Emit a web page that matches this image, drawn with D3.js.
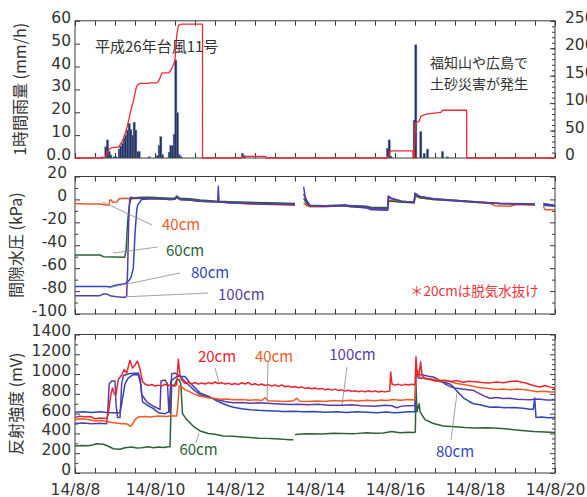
<!DOCTYPE html>
<html>
<head>
<meta charset="utf-8">
<script src="https://cdn.jsdelivr.net/npm/d3@7"></script>
<style>
  html, body { margin: 0; padding: 0; background: #fff; }
  svg { display: block; }
</style>
</head>
<body>
<svg id="chart" width="587" height="497"></svg>
<script>
// ---- time base: hours counted from 2014-08-08 00:00 ----
const START = new Date(2014, 7, 8, 0, 0);
const END = new Date(2014, 7, 20, 0, 0);
const at = h => new Date(START.getTime() + h * 3600e3);

// ---- hourly rainfall [hour, mm/h] ----
const rainHourly = [
  [16,0.5],[18,4.9],[19,7.9],[20,2.8],[21,1.3],[23,0.5],[24,0.5],
  [26,3.9],[27,5.2],[28,6.4],[29,8.6],[30,10.0],[31,12.2],[32,15.1],[33,12.5],[34,10.0],
  [35,15.6],[36,12.2],[37,2.8],[38,2.8],
  [44,0.5],[49,1.0],[50,5.5],[51,9.3],[52,1.5],
  [56,2.5],[57,5.5],[58,5.5],[59,10.4],[60,42.8],[61,19.8],[62,1.5],[63,0.6],
  [100,2.0],[101,1.0],[154,0.3],[169,0.3],
  [187,4.2],[188,7.9],[189,0.8],
  [203,16.5],[204,49.5],[207,11.5],[209,2.0],[211,3.9],[220,2.8],[223,0.5],[262,0.3]
];

// ---- cumulative rainfall per rain event [hour, mm] ----
const rainCumulative = [
  [0,0],[16,0],[17,0.5],[18,1],[19,6],[20,14],[21,17],[22,19],[24,19.5],[26,20],
  [27,24],[28,29],[29,35],[30,44],[31,54],[32,66],[33,80],[34,93],[35,103],[36,118],
  [37,131],[38,134],[39,136],[44,136],[45,137],[49,137],[50,139],[51,146],[52,154],
  [53,155],[56,155],[57,158],[58,163],[59,169],[60,179],[61,222],[62,241],[63,243],
  [64,244],[76.5,244],[76.5,0],[100,0],[101,2],[102,3],[114.5,3],[114.5,0],
  [187.5,0],[188.2,4],[189,12],[190,13],[202.8,13],[202.8,0],[203.5,0],[204.3,64],
  [206.5,67],[207.5,76],[209,78],[211,80],[213,81],[219.5,83],[220.5,87],[235,87],
  [235,0],[288,0]
];

// ---- pore water pressure [hour, kPa]; null = no record ----
const pore40 = [
  [0,-3.5],[7,-4],[15,-4],[19,-4.8],[20.5,-4.8],[20.8,-0.5],[22,-0.8],[22.5,-2.5],
  [25,-2.2],[26.5,0.5],[30,1],[34,0.5],[40,1],[45,0.8],[51,0.5],[57,0],[60,0.5],
  [61,2],[63,0],[69,-0.5],[75,-1.5],[85,-2.2],[93,-3],[105,-4],[117,-4.5],[132,-5],
  [134,null],[137.2,-3],[139,-5.5],[141,-6.5],[150,-6.5],[160,-5.5],[162,-4.5],
  [165,-6.5],[175,-7],[178,-8.5],[187.6,-8.5],[188,-0.5],[190,-1],[196,-2],
  [203.5,-3],[204,3],[207,1.5],[215,0],[225,-1],[240,-2.5],[249,-3.5],[252,-5.5],
  [261,-6],[265,-4.5],[276,-5],[278,null],[281,-6],[282,-9],[288,-9]
];
const pore60 = [
  [0,-48.5],[15,-48.5],[17,-50],[29.8,-50.5],[30.6,-45],[31.6,-19],[32.6,-5],
  [33.6,0.5],[36,1.5],[40,1.8],[45,2],[51,1.5],[57,1],[60,1],[61,3],[63,1],[69,0.5],
  [75,-0.5],[85,-1.5],[93,-2],[105,-2.5],[117,-3],[132,-3.5],
  [134,null],[137.2,1],[139,-4],[141,-5.5],[150,-5.5],[160,-5],[175,-6],[178,-7],
  [187.6,-7],[188,-2],[190,-1.5],[196,-2.5],[203.5,-3],[204,3.5],[207,1.5],[215,0],
  [225,-1],[240,-2.5],[255,-3.5],[276,-4],[278,null],[281,-4],[288,-5.5]
];
const pore80 = [
  [0,-76],[19,-76],[21,-76.5],[24,-75],[30,-73.5],[32,-71.5],[33.6,-68],[35,-60],
  [36,-30],[37,-10],[37.6,-5],[40,0],[45,0.5],[51,0.5],[57,0],[60,0.2],[61,2],[63,0],
  [69,-0.5],[75,-1.5],[85,-2],[93,-3],[105,-3.5],[117,-4],[132,-4.5],
  [134,null],[137.2,5],[139,-2],[141,-5.5],[150,-6],[160,-5.5],[175,-7.5],[178,-9],
  [187.6,-9.5],[188,2],[190,0.5],[196,-1.5],[203.5,-2.5],[204,5],[207,2.5],[215,0.5],
  [225,-0.5],[240,-2],[255,-3.5],[276,-4.5],[278,null],[281,-5],[288,-6]
];
const pore100 = [
  [0,-84],[15,-84],[17,-82.5],[19,-82.5],[21,-84],[25,-85],[30,-85.5],[31,-84],
  [31.6,-60],[32.2,-20],[32.8,0],[33.5,2],[36,1],[40,1],[45,0.5],[51,0.5],[57,0],
  [60,0.2],[61,2],[63,0],[69,-0.5],[75,-1.5],[85.6,-2],[86,11.5],[86.4,-2],[93,-3],
  [105,-3.5],[117,-4],[132,-4.5],
  [134,null],[137.2,11],[138,3],[139,-1],[141,-5],[150,-5.5],[160,-5],[175,-6.5],
  [178,-8],[187.6,-8],[188,3],[190,1],[196,-1.5],[203.5,-2.5],[204,5.5],[207,2.5],
  [215,0.5],[225,-0.5],[240,-2],[255,-3.5],[276,-4.5],[278,null],[281,-3.5],[288,-5]
];

// ---- reflection intensity [hour, mV]; null = no record ----
const refl20 = [
  [0,562],[3,575],[6,565],[8,572],[10,566],[12,548],[15,555],[19,550],[20,600],
  [21.5,790],[22.5,860],[23.5,800],[24.5,790],[26,945],[28,990],[29.5,1046],[31,1010],
  [33,1140],[34.5,1060],[36,1090],[37.5,1130],[39,1050],[40.5,925],[42,900],[44,885],
  [46,895],[48,880],[50,888],[52,878],[54,897],[56,884],[58,892],[60,880],[61,890],
  [62,1150],[63,990],[64,940],[66,905],[68,918],[70,900],[72,915],[74,898],[76,910],
  [78,900],[80,914],[82,902],[84,920],[86,905],[88,912],[90,900],[92,908],[94,895],
  [96,905],[98,893],[100,912],[102,900],[104,915],[106,892],[108,902],[110,888],
  [112,900],[114,885],[116,893],[118,878],[120,890],[122,876],[124,890],[126,872],
  [128,880],[130,866],[132,875],[134,862],[136,870],[138,855],[140,862],[142,852],
  [144,860],[146,848],[148,855],[150,842],[152,850],[154,838],[156,848],[158,835],
  [160,840],[162,828],[164,836],[166,825],[168,832],[170,822],[172,830],[174,820],
  [176,832],[178,822],[180,830],[182,818],[184,826],[186,820],[188.8,828],
  [189.4,1020],[190.2,900],[192,888],[194,898],[196,886],[198,896],[200,890],[202,898],
  [204,892],[204.6,1175],[205.3,980],[206.5,1000],[207.4,1125],[208.2,990],[210,955],
  [213,945],[216,930],[219,928],[222,938],[226,926],[229,935],[233,918],[236,928],
  [240,922],[244,915],[249,911],[253,920],[257,912],[261,925],[265,930],[268,918],
  [270,912],[273,894],[276,880],[279,870],[282,884],[285,868],[288,858]
];
const refl40 = [
  [0,540],[4,548],[8,540],[12,525],[16,530],[19,520],[22,510],[25,505],[28,498],
  [30,500],[32,490],[33,472],[34,478],[36,540],[38,567],[42,572],[45,566],[50,575],
  [55,570],[58,578],[61,575],[61.8,700],[62.5,880],[64,870],[66,843],[69,820],
  [72,795],[75,776],[78,768],[80,760],[84,752],[87,745],[91,748],[95,740],[100,742],
  [105,736],[109,740],[112,733],[114,760],[116,730],[120,728],[125,722],[128,726],
  [131,730],[133,755],[135,725],[140,722],[145,728],[150,722],[155,732],[160,727],
  [165,736],[170,728],[175,735],[180,730],[184,738],[187,733],[191,742],[195,736],
  [200,742],[204,738],[204.6,1000],[205.5,1040],[207,965],[210,958],[213,950],
  [217,942],[221,935],[225,925],[229,905],[233,895],[237,882],[241,870],[245,860],
  [249,852],[253,845],[257,850],[261,842],[265,848],[269,843],[273,835],[277,822],
  [281,826],[285,818],[288,820]
];
const refl60 = [
  [0,272],[4,278],[8,275],[11,285],[13,295],[17,290],[20,270],[23,245],[27,240],
  [30,255],[34,262],[37,252],[40,255],[44,265],[47,255],[50,262],[53,258],[56,265],
  [57,265],[58,890],[59.5,880],[61,940],[62.5,945],[63.5,900],[64.5,600],[67,540],
  [71,472],[75,425],[80,400],[84,392],[89,375],[95,372],[100,365],[105,358],[110,352],
  [115,350],[120,346],[125,340],[129,337],[131,335],[131.5,null],[132,390],[136,395],
  [140,398],[148,394],[155,402],[160,400],[168,398],[175,406],[180,402],[185,405],
  [190,420],[195,408],[200,412],[203,410],[204.2,415],[204.6,880],[205.2,620],
  [206.5,700],[207,620],[210,540],[215,500],[221,475],[228,468],[234,460],[240,455],
  [248,458],[256,450],[262,440],[268,430],[275,420],[282,415],[288,410]
];
const refl80 = [
  [0,615],[5,620],[10,612],[15,618],[19,612],[23,608],[27,610],[28,700],[30,900],
  [32,962],[35,995],[38,990],[39.5,900],[40.5,720],[43,690],[47,650],[50,610],
  [54,600],[56.5,620],[57.5,930],[61,975],[66,975],[69,910],[73,845],[75,810],
  [78,790],[81,770],[85,730],[89,700],[92,680],[95,665],[100,650],[105,640],[110,634],
  [115,630],[120,626],[125,622],[131,625],[137,618],[143,622],[150,615],[157,620],
  [163,612],[169,618],[175,615],[181,610],[187,616],[191,608],[195,612],[200,618],
  [204,620],[204.6,1020],[206,960],[210,955],[213,950],[216,938],[219,925],[222,915],
  [225,900],[227,870],[229,830],[231,795],[233,760],[236,728],[239,700],[243,690],
  [249,665],[253,668],[258,660],[263,662],[269,655],[273,645],[275,645],[275.8,759],
  [276.6,560],[280,565],[284,558],[288,562]
];
const refl100 = [
  [0,500],[5,505],[10,498],[15,502],[19,498],[19.6,600],[20.5,900],[22,930],[24,930],
  [24.6,700],[25.5,560],[27,560],[28,900],[29,985],[33,1005],[38,1010],[39,960],
  [40,793],[43,720],[47,675],[50,650],[51,640],[51.6,930],[54,940],[55.5,900],
  [56.3,620],[57,610],[58,1000],[60,1010],[63,980],[66,925],[69,877],[72,830],[75,793],
  [80,765],[85,742],[90,722],[95,709],[100,712],[105,704],[110,710],[115,705],
  [120,700],[125,696],[129,692],[134,695],[140,690],[146,694],[152,686],[160,685],
  [166,690],[172,680],[180,675],[186,684],[190,680],[193,660],[196,676],[200,680],
  [204,682],[204.6,1030],[206,995],[209,990],[212,978],[215,970],[219,935],[222,900],
  [225,875],[228,860],[232,850],[235,843],[239,835],[243,800],[246,775],[249,755],
  [253,762],[257,752],[261,755],[265,746],[269,742],[273,740],[278,748],[283,738],
  [288,738]
];

// ---- tick values ----
const dateTicks = [8, 10, 12, 14, 16, 18, 20];           // days of August 2014
const rainTicks = [0, 10, 20, 30, 40, 50, 60];
const cumTicks = [0, 50, 100, 150, 200, 250];
const poreTicks = [20, 0, -20, -40, -60, -80, -100];
const reflTicks = [0, 200, 400, 600, 800, 1000, 1200, 1400];

// ---- colours ----
const C = {
  d20: "#e8262f", d40: "#f05a24", d60: "#2c6236", d80: "#2f47b5", d100: "#5a3ca3",
  bar: "#1f2f58", barEdge: "#5c72aa", cum: "#ec2a33", ink: "#333", frame: "#3a3a3a",
  leader: "#8a8a8a"
};
const FONT_NUM = "'DejaVu Sans', sans-serif";
const FONT_JP = "'Noto Sans CJK JP', 'Noto Sans CJK SC', sans-serif";

// ---- layout ----
const X0 = 75, X1 = 555;
const P = {
  rain: { top: 20.8, bottom: 158 },
  pore: { top: 176.5, bottom: 314 },
  refl: { top: 334.5, bottom: 473 }
};

const svg = d3.select("#chart");
const x = d3.scaleTime().domain([START, END]).range([X0, X1]);
const yRain = d3.scaleLinear().domain([0, 60]).range([P.rain.bottom, P.rain.top]);
const yCum = d3.scaleLinear().domain([0, 250]).range([P.rain.bottom, P.rain.top]);
const yPore = d3.scaleLinear().domain([-100, 20]).range([P.pore.bottom, P.pore.top]);
const yRefl = d3.scaleLinear().domain([0, 1400]).range([P.refl.bottom, P.refl.top]);

function clipFor(id, p) {
  svg.append("clipPath").attr("id", id)
    .append("rect").attr("x", X0).attr("y", p.top)
    .attr("width", X1 - X0).attr("height", p.bottom - p.top);
  return `url(#${id})`;
}

function tidy(g) {
  g.select(".domain").remove();
  g.selectAll("line").attr("stroke", C.frame).attr("stroke-width", 1);
  g.selectAll("text").attr("fill", C.ink).attr("font-family", FONT_NUM).attr("font-size", 15.5);
  return g;
}

function timeTicks(p) {
  const halfDays = d3.timeHour.every(12).range(START, d3.timeHour.offset(END, 1));
  tidy(svg.append("g").attr("transform", `translate(0,${p.top})`)
    .call(d3.axisTop(x).tickValues(halfDays).tickSize(-5).tickFormat("")));
  tidy(svg.append("g").attr("transform", `translate(0,${p.bottom})`)
    .call(d3.axisBottom(x).tickValues(halfDays).tickSize(-5).tickFormat("")));
}

function valueAxis(side, y, major, minor, pad, fmt) {
  const make = side === "left" ? d3.axisLeft : d3.axisRight;
  const xPos = side === "left" ? X0 : X1;
  if (minor) {
    tidy(svg.append("g").attr("transform", `translate(${xPos},0)`)
      .call(make(y).tickValues(minor).tickSize(-3).tickFormat("")));
  }
  const g = tidy(svg.append("g").attr("transform", `translate(${xPos},0)`)
    .call(make(y).tickValues(major).tickSize(-5).tickPadding(pad)
      .tickFormat(fmt === null ? "" : (fmt || (d => String(d))))));
  g.selectAll("text").attr("y", -3.5);
  return g;
}

function frame(p) {
  svg.append("rect").attr("x", X0).attr("y", p.top)
    .attr("width", X1 - X0).attr("height", p.bottom - p.top)
    .attr("fill", "none").attr("stroke", C.frame).attr("stroke-width", 1);
}

function yTitle(text, cx, p) {
  svg.append("text")
    .attr("transform", `translate(${cx},${(p.top + p.bottom) / 2}) rotate(-90)`)
    .attr("text-anchor", "middle").attr("dominant-baseline", "central")
    .attr("font-family", FONT_JP).attr("font-size", 16).attr("fill", C.ink)
    .text(text);
}

function series(data, y, color, clip, width) {
  const line = d3.line()
    .defined(d => d[1] !== null)
    .x(d => x(at(d[0])))
    .y(d => y(d[1]));
  svg.append("path").datum(data)
    .attr("clip-path", clip)
    .attr("fill", "none").attr("stroke", color)
    .attr("stroke-width", width || 1.5)
    .attr("stroke-linejoin", "round")
    .attr("d", line);
}

function label(text, t, v, y, color, size, anchor) {
  svg.append("text")
    .attr("x", x(at(t))).attr("y", y(v))
    .attr("text-anchor", anchor || "start").attr("dominant-baseline", "central")
    .attr("font-family", FONT_JP).attr("font-size", size).attr("fill", color)
    .text(text);
}

function leader(from, to, y) {
  svg.append("line")
    .attr("x1", x(at(from[0]))).attr("y1", y(from[1]))
    .attr("x2", x(at(to[0]))).attr("y2", y(to[1]))
    .attr("stroke", C.leader).attr("stroke-width", 0.8);
}

// ================= rainfall panel =================
{
  const clip = clipFor("clip-rain", P.rain);
  svg.append("g").attr("clip-path", clip)
    .selectAll("rect").data(rainHourly).join("rect")
    .attr("x", d => x(at(d[0])) - 0.2)
    .attr("width", d => x(at(d[0] + 1)) - x(at(d[0])) + 0.4)
    .attr("y", d => yRain(d[1]))
    .attr("height", d => yRain(0) - yRain(d[1]))
    .attr("fill", C.bar).attr("stroke", C.barEdge).attr("stroke-width", 0.5);

  frame(P.rain);
  timeTicks(P.rain);
  valueAxis("left", yRain, rainTicks, null, 4, d => d === 0 ? "0.0" : String(d));
  valueAxis("right", yCum, cumTicks, d3.range(0, 251, 10), 10);

  series(rainCumulative, yCum, C.cum, null, 1.3);

  yTitle("1時間雨量 (mm/h)", 19, P.rain);
  label("平成26年台風11号", 12, 49.3, yRain, C.ink, 15);
  label("福知山や広島で", 213, 41.8, yRain, C.ink, 14);
  label("土砂災害が発生", 213, 32.6, yRain, C.ink, 14);
}

// ================= pore water pressure panel =================
{
  const clip = clipFor("clip-pore", P.pore);
  frame(P.pore);
  timeTicks(P.pore);
  valueAxis("left", yPore, poreTicks, d3.range(-90, 20, 20), 8);
  valueAxis("right", yPore, poreTicks, d3.range(-90, 20, 20), 8, null);

  series(pore40, yPore, C.d40, clip);
  series(pore60, yPore, C.d60, clip);
  series(pore80, yPore, C.d80, clip);
  series(pore100, yPore, C.d100, clip);

  leader([16.8, -2.3], [46.2, -22.3], yPore);
  leader([22.8, -46.8], [49.8, -41.5], yPore);
  leader([19.8, -77.3], [63, -64.2], yPore);
  leader([28.8, -85.1], [79.8, -81.7], yPore);
  label("40cm", 52.2, -20.6, yPore, C.d40, 15);
  label("60cm", 54.6, -44.1, yPore, C.d60, 15);
  label("80cm", 69.6, -63.3, yPore, C.d80, 15);
  label("100cm", 85.8, -81.7, yPore, C.d100, 15);
  label("＊20cmは脱気水抜け", 201, -79.4, yPore, "#e8333a", 13.5);

  yTitle("間隙水圧 (kPa)", 15, P.pore);
}

// ================= reflection intensity panel =================
{
  const clip = clipFor("clip-refl", P.refl);
  frame(P.refl);
  timeTicks(P.refl);
  valueAxis("left", yRefl, reflTicks, d3.range(100, 1400, 200), 4);
  valueAxis("right", yRefl, reflTicks, d3.range(50, 1400, 50).filter(v => v % 200 !== 0), 4, null);

  tidy(svg.append("g").attr("transform", `translate(0,${P.refl.bottom})`)
    .call(d3.axisBottom(x)
      .tickValues(dateTicks.map(d => new Date(2014, 7, d)))
      .tickSize(0).tickPadding(11)
      .tickFormat(d3.timeFormat("%y/%-m/%-d"))));

  series(refl60, yRefl, C.d60, clip);
  series(refl80, yRefl, C.d80, clip);
  series(refl100, yRefl, C.d100, clip);
  series(refl40, yRefl, C.d40, clip);
  series(refl20, yRefl, C.d20, clip);

  leader([84, 1061], [86.4, 910], yRefl);
  leader([115.8, 1122], [115.2, 718], yRefl);
  leader([74.4, 404], [72.6, 303], yRefl);
  leader([163.2, 1071], [160.2, 687], yRefl);
  leader([229.2, 809], [225.6, 334], yRefl);
  label("20cm", 85.2, 1186, yRefl, C.d20, 15, "middle");
  label("40cm", 119.4, 1186, yRefl, C.d40, 15, "middle");
  label("60cm", 74.1, 243, yRefl, C.d60, 15, "middle");
  label("100cm", 166.5, 1203, yRefl, C.d100, 15, "middle");
  label("80cm", 228, 226, yRefl, C.d80, 15, "middle");

  yTitle("反射強度 (mV)", 15, P.refl);
}
</script>
</body>
</html>
